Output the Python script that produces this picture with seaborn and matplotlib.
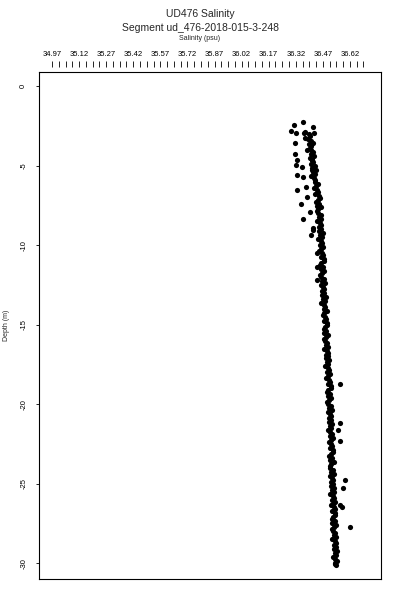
import numpy as np
import pandas as pd
import seaborn as sns
import matplotlib
matplotlib.use("Agg")
import matplotlib.pyplot as plt

# near-surface scatter (salinity psu, depth m)
sal_top = [36.310, 36.360, 36.293, 36.371, 36.415, 36.316, 36.415, 36.382, 36.316, 36.327,
           36.321, 36.354, 36.327, 36.360, 36.327, 36.382, 36.349, 36.399, 36.360, 36.404,
           36.415, 36.365, 36.321, 36.420, 36.371, 36.410, 36.410, 36.376,
           36.392, 36.398, 36.388, 36.402, 36.395, 36.405, 36.400]
depth_top = [-2.45, -2.26, -2.83, -2.89, -2.58, -3.58, -3.58, -4.03, -4.28, -4.65,
             -4.97, -5.09, -5.60, -5.72, -6.54, -6.98, -7.42, -7.92, -8.36, -9.37,
             -8.93, -2.96, -2.96, -2.96, -3.27, -4.65, -5.28, -6.35,
             -3.00, -3.15, -3.30, -3.45, -3.60, -3.75, -3.90]

# stray points off the main profile
sal_out = [36.415, 36.437, 36.437, 36.437, 36.565, 36.565, 36.554, 36.565,
           36.592, 36.581, 36.576, 36.620, 36.565]
depth_out = [-9.06, -10.5, -11.4, -12.2, -18.7, -21.2, -21.6, -22.3,
             -24.8, -25.3, -26.5, -27.7, -26.35]

# main profile, 8 samples per metre from 4 m to 30 m
sal_main = [
    36.402, 36.415, 36.407, 36.420, 36.398, 36.412, 36.417, 36.405,
    36.424, 36.411, 36.431, 36.418, 36.426, 36.407, 36.421, 36.428,
    36.426, 36.444, 36.431, 36.422, 36.435, 36.441, 36.428, 36.446,
    36.455, 36.442, 36.434, 36.450, 36.438, 36.458, 36.445, 36.436,
    36.444, 36.457, 36.449, 36.462, 36.440, 36.454, 36.459, 36.447,
    36.462, 36.449, 36.469, 36.456, 36.464, 36.445, 36.459, 36.466,
    36.455, 36.473, 36.460, 36.451, 36.464, 36.470, 36.457, 36.475,
    36.475, 36.462, 36.454, 36.470, 36.458, 36.478, 36.465, 36.456,
    36.462, 36.475, 36.467, 36.480, 36.458, 36.472, 36.477, 36.465,
    36.479, 36.466, 36.486, 36.473, 36.481, 36.462, 36.476, 36.483,
    36.474, 36.492, 36.479, 36.470, 36.483, 36.489, 36.476, 36.494,
    36.495, 36.482, 36.474, 36.490, 36.478, 36.498, 36.485, 36.476,
    36.482, 36.495, 36.487, 36.500, 36.478, 36.492, 36.497, 36.485,
    36.499, 36.486, 36.506, 36.493, 36.501, 36.482, 36.496, 36.503,
    36.494, 36.512, 36.499, 36.490, 36.503, 36.509, 36.496, 36.514,
    36.514, 36.501, 36.493, 36.509, 36.497, 36.517, 36.504, 36.495,
    36.500, 36.513, 36.505, 36.518, 36.496, 36.510, 36.515, 36.503,
    36.515, 36.502, 36.522, 36.509, 36.517, 36.498, 36.512, 36.519,
    36.508, 36.526, 36.513, 36.504, 36.517, 36.523, 36.510, 36.528,
    36.527, 36.514, 36.506, 36.522, 36.510, 36.530, 36.517, 36.508,
    36.512, 36.525, 36.517, 36.530, 36.508, 36.522, 36.527, 36.515,
    36.527, 36.514, 36.534, 36.521, 36.529, 36.510, 36.524, 36.531,
    36.520, 36.538, 36.525, 36.516, 36.529, 36.535, 36.522, 36.540,
    36.540, 36.527, 36.519, 36.535, 36.523, 36.543, 36.530, 36.521,
    36.526, 36.539, 36.531, 36.544, 36.522, 36.536, 36.541, 36.529,
    36.542, 36.529, 36.549, 36.536, 36.544, 36.525, 36.539, 36.546,
    36.540, 36.544, 36.536,
]
depth_main = list(-(np.repeat(np.arange(4, 30), 8) + np.tile(np.arange(8) * 0.125, 26))) + [-30.0, -30.1, -30.05]

df = pd.DataFrame({
    "sal": sal_top + sal_out + sal_main,
    "depth": depth_top + depth_out + depth_main,
})

sns.set_style("white")
plt.rcParams["font.family"] = ["Liberation Sans", "DejaVu Sans"]

fig = plt.figure(figsize=(4, 6), dpi=100)
ax = fig.add_axes([39 / 400, 1 - 579 / 600, (381 - 39) / 400, (579 - 72) / 600])

sns.scatterplot(data=df, x="sal", y="depth", ax=ax, color="black", s=14, linewidth=0, legend=False)

ax.set_xlim(34.898, 36.792)
ax.set_ylim(-31.0, 0.9)
ax.set_xlabel("")
ax.set_ylabel("")
ax.set_xticks([])
for sp in ax.spines.values():
    sp.set_color("black")
    sp.set_linewidth(0.8)

yt = [0, -5, -10, -15, -20, -25, -30]
ax.set_yticks(yt)
ax.set_yticklabels([str(v) for v in yt], rotation=90, va="center", fontsize=5.5)
ax.tick_params(axis="y", direction="out", length=2.5, width=0.6, pad=6, left=True, colors="black")

# top salinity axis, offset above the box like base R
top = ax.secondary_xaxis(1.009)
major = [34.97 + 0.15 * i for i in range(12)]
top.set_xticks(major)
top.set_xticklabels([f"{v:.2f}" for v in major], fontsize=5.5)
top.set_xticks([34.97 + 0.0375 * i for i in range(47)], minor=True)
top.tick_params(axis="x", which="both", direction="out", length=4, width=0.6, pad=3, colors="black")
top.spines["top"].set_visible(False)

fig.text(0.5, 1 - 14 / 600, "UD476 Salinity", ha="center", va="center", fontsize=7.5)
fig.text(0.5, 1 - 28 / 600, "Segment ud_476-2018-015-3-248", ha="center", va="center", fontsize=7.5)
fig.text(0.5, 1 - 39 / 600, "Salinity (psu)", ha="center", va="center", fontsize=5)
fig.text(6 / 400, 1 - 325 / 600, "Depth (m)", ha="center", va="center", rotation=90, fontsize=5)

fig.savefig("out.png", dpi=100, facecolor="white")
